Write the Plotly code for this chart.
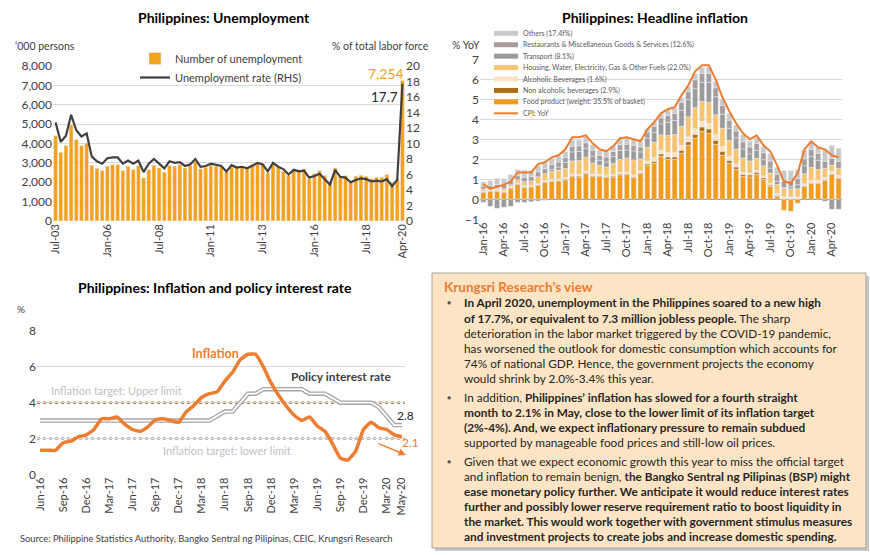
import plotly.graph_objects as go

W, H = 870, 555
def px(x): return x / W
def py(y): return 1 - y / H

FONT = "Lato, 'Open Sans', sans-serif"
ORANGE = "#F4A21C"
CPI_OR = "#ED7D31"
DARK = "#404040"

# ---------------- Chart 1: Unemployment (quarterly, Jul-03 .. Apr-20) ----------------
quarters = []
for yr in range(2003, 2021):
    for m in ["Jan", "Apr", "Jul", "Oct"]:
        quarters.append(f"{m}-{str(yr)[2:]}")
quarters = quarters[quarters.index("Jul-03"):quarters.index("Apr-20") + 1]

unemployed = [4400, 3540, 3890, 4970, 4200, 3890, 4020, 2880, 2710, 2600,
              2830, 2910, 2910, 2600, 2830, 2650, 2860, 2230, 2650, 2880,
              2740, 2520, 2860, 2830, 2910, 2740, 2860, 3080, 2690, 2770,
              2880, 2830, 2790, 2570, 2770, 2830, 2770, 2740, 2880, 3050,
              2960, 2480, 2880, 2770, 2570, 2350, 2650, 2650, 2690, 2170,
              2450, 2600, 2350, 1920, 2740, 2310, 2350, 2000, 2310, 2360,
              2310, 2190, 2260, 2260, 2400, 1970, 2140, 7254]
unemp_rate = [12.7, 10.2, 11.0, 13.7, 11.7, 10.9, 11.3, 8.3, 7.7, 7.4,
              8.1, 8.2, 8.2, 7.4, 7.8, 7.4, 7.8, 6.3, 7.4, 8.0,
              7.4, 6.8, 7.7, 7.5, 7.6, 7.1, 7.3, 8.0, 7.0, 7.1,
              7.4, 7.2, 7.1, 6.4, 7.2, 6.9, 7.0, 6.8, 7.1, 7.5,
              7.3, 6.4, 7.5, 7.0, 6.7, 6.0, 6.6, 6.4, 6.5, 5.6,
              5.8, 6.1, 5.4, 4.7, 6.6, 5.7, 5.6, 5.0, 5.3, 5.5,
              5.4, 5.1, 5.2, 5.1, 5.4, 4.5, 5.3, 17.7]
q_ticks = ["Jul-03", "Jan-06", "Jul-08", "Jan-11", "Jul-13", "Jan-16", "Jul-18", "Apr-20"]

# ---------------- Chart 2: Headline inflation (monthly, Jan-16 .. May-20) ----------------
months = []
for yr in range(2016, 2021):
    for m in ["Jan", "Feb", "Mar", "Apr", "May", "Jun", "Jul", "Aug", "Sep", "Oct", "Nov", "Dec"]:
        months.append(f"{m}-{str(yr)[2:]}")
months = months[:months.index("May-20") + 1]

food = [0.33, 0.40, 0.40, 0.35, 0.55, 0.75, 0.60, 0.62, 0.70, 0.85, 0.90, 0.92,
        0.97, 1.15, 1.12, 1.28, 1.15, 1.13, 1.10, 1.12, 1.22, 1.25, 1.10, 1.30,
        1.68, 1.80, 2.15, 2.00, 2.00, 2.30, 2.70, 3.05, 3.40, 3.30, 2.75, 2.20,
        1.80, 1.50, 1.15, 1.12, 1.25, 1.00, 0.65, 0.15, -0.55, -0.60, -0.20, 0.65,
        0.80, 0.80, 0.95, 1.25, 1.05]
non_alc = [0.03, 0.03, 0.03, 0.03, 0.03, 0.03, 0.03, 0.03, 0.03, 0.03, 0.03, 0.03,
           0.04, 0.04, 0.04, 0.04, 0.04, 0.04, 0.04, 0.04, 0.04, 0.04, 0.04, 0.04,
           0.08, 0.10, 0.12, 0.12, 0.12, 0.15, 0.18, 0.20, 0.22, 0.22, 0.20, 0.20,
           0.15, 0.12, 0.10, 0.10, 0.10, 0.08, 0.06, 0.05, 0.04, 0.03, 0.03, 0.03,
           0.03, 0.03, 0.03, 0.03, 0.03]
alcohol = [0.05, 0.05, 0.05, 0.05, 0.05, 0.05, 0.05, 0.05, 0.05, 0.05, 0.06, 0.06,
           0.08, 0.08, 0.08, 0.08, 0.08, 0.08, 0.08, 0.08, 0.08, 0.08, 0.08, 0.08,
           0.15, 0.20, 0.20, 0.22, 0.22, 0.25, 0.25, 0.28, 0.28, 0.28, 0.28, 0.25,
           0.20, 0.15, 0.12, 0.10, 0.10, 0.10, 0.10, 0.10, 0.10, 0.10, 0.10, 0.10,
           0.12, 0.12, 0.12, 0.12, 0.12]
housing = [0.10, 0.05, 0.08, 0.10, 0.10, 0.15, 0.20, 0.22, 0.35, 0.35, 0.40, 0.45,
           0.45, 0.65, 0.70, 0.70, 0.55, 0.45, 0.40, 0.55, 0.65, 0.70, 0.75, 0.60,
           0.70, 0.75, 0.75, 0.85, 0.90, 0.95, 1.00, 1.05, 1.00, 1.05, 1.00, 0.90,
           0.80, 0.75, 0.70, 0.60, 0.60, 0.50, 0.50, 0.45, 0.40, 0.40, 0.40, 0.50,
           0.65, 0.55, 0.45, 0.30, 0.35]
transport = [-0.15, -0.35, -0.45, -0.40, -0.35, -0.15, -0.15, -0.12, -0.08, -0.05, 0.10, 0.15,
             0.30, 0.45, 0.45, 0.45, 0.35, 0.25, 0.25, 0.35, 0.45, 0.40, 0.45, 0.35,
             0.45, 0.50, 0.55, 0.65, 0.70, 0.80, 0.85, 0.95, 0.95, 1.00, 0.90, 0.70,
             0.60, 0.55, 0.45, 0.35, 0.40, 0.30, 0.25, 0.15, 0.05, 0.10, 0.20, 0.40,
             0.55, 0.45, -0.10, -0.50, -0.50]
restaurants = [0.15, 0.15, 0.18, 0.20, 0.20, 0.20, 0.22, 0.22, 0.25, 0.25, 0.25, 0.25,
               0.25, 0.28, 0.28, 0.28, 0.28, 0.25, 0.25, 0.25, 0.28, 0.28, 0.28, 0.25,
               0.30, 0.30, 0.30, 0.35, 0.35, 0.40, 0.40, 0.45, 0.45, 0.45, 0.45, 0.45,
               0.40, 0.35, 0.35, 0.35, 0.35, 0.35, 0.35, 0.35, 0.30, 0.30, 0.30, 0.35,
               0.35, 0.35, 0.35, 0.35, 0.35]
others = [0.20, 0.25, 0.30, 0.30, 0.30, 0.30, 0.35, 0.30, 0.30, 0.30, 0.30, 0.30,
          0.30, 0.30, 0.30, 0.30, 0.28, 0.25, 0.25, 0.28, 0.30, 0.30, 0.30, 0.25,
          0.15, 0.20, 0.20, 0.25, 0.25, 0.25, 0.25, 0.30, 0.30, 0.30, 0.30, 0.30,
          0.35, 0.30, 0.35, 0.30, 0.30, 0.30, 0.35, 0.35, 0.55, 0.50, 0.45, 0.45,
          0.35, 0.30, 0.60, 0.65, 0.65]
cpi = [0.76, 0.52, 0.64, 0.72, 0.89, 1.34, 1.34, 1.34, 1.76, 1.85, 2.10, 2.20,
       2.50, 3.10, 3.10, 3.20, 2.80, 2.50, 2.40, 2.65, 3.05, 3.10, 3.00, 2.90,
       3.50, 3.85, 4.30, 4.50, 4.60, 5.20, 5.70, 6.40, 6.70, 6.70, 6.00, 5.10,
       4.40, 3.80, 3.30, 3.00, 3.20, 2.70, 2.40, 1.70, 0.90, 0.80, 1.30, 2.50,
       2.90, 2.60, 2.50, 2.20, 2.10]
m_ticks = months[0::3]

components = [
    ("Food product (weight: 35.5% of basket)", food, "#F39B1A"),
    ("Non alcoholic beverages (2.9%)", non_alc, "#B06E14"),
    ("Alcoholic Beverages (1.6%)", alcohol, "#FCE2C0"),
    ("Housing, Water, Electricity, Gas & Other Fuels (22.0%)", housing, "#F9C46E"),
    ("Transport (8.1%)", transport, "#9B9B9B"),
    ("Restaurants & Miscellaneous Goods & Services (12.6%)", restaurants, "#A89C9C"),
    ("Others (17.4f%)", others, "#C9C9C9"),
]

# ---------------- Chart 3: Inflation & policy rate (Jun-16 .. May-20) ----------------
months3 = months[months.index("Jun-16"):]
inflation3 = cpi[months.index("Jun-16"):]
policy_rate = [3.0, 3.0, 3.0, 3.0, 3.0, 3.0, 3.0,
               3.0, 3.0, 3.0, 3.0, 3.0, 3.0, 3.0, 3.0, 3.0, 3.0, 3.0, 3.0,
               3.0, 3.0, 3.0, 3.0, 3.25, 3.5, 3.5, 4.0, 4.5, 4.5, 4.75, 4.75,
               4.75, 4.75, 4.75, 4.75, 4.5, 4.5, 4.5, 4.25, 4.0, 4.0, 4.0, 4.0,
               4.0, 3.75, 3.25, 2.75, 2.75]
target_upper = 4
target_lower = 2
m3_ticks = months3[0::3] + ["May-20"]

fig = go.Figure()

# Chart 1 traces
fig.add_trace(go.Bar(x=quarters, y=unemployed, name="Number of unemployment",
                     marker_color=ORANGE, xaxis="x", yaxis="y", legend="legend"))
fig.add_trace(go.Scatter(x=quarters, y=unemp_rate, name="Unemployment rate (RHS)", mode="lines",
                         line=dict(color=DARK, width=2.2), xaxis="x", yaxis="y2", legend="legend"))

# Chart 2 traces
for name, vals, col in components:
    fig.add_trace(go.Bar(x=months, y=vals, name=name, marker_color=col, xaxis="x2", yaxis="y3",
                         showlegend=False))
fig.add_trace(go.Scatter(x=months, y=cpi, name="CPI: YoY", mode="lines",
                         line=dict(color=CPI_OR, width=2), xaxis="x2", yaxis="y3", showlegend=False))

# Chart 3 traces
fig.add_trace(go.Scatter(x=months3, y=policy_rate, mode="lines", line=dict(color="#A6A6A6", width=4.5),
                         xaxis="x3", yaxis="y4", showlegend=False, name="Policy interest rate"))
fig.add_trace(go.Scatter(x=months3, y=policy_rate, mode="lines", line=dict(color="white", width=1.8),
                         xaxis="x3", yaxis="y4", showlegend=False, hoverinfo="skip"))
fig.add_trace(go.Scatter(x=months3, y=inflation3, mode="lines",
                         line=dict(color=CPI_OR, width=3.5, shape="spline", smoothing=0.4),
                         xaxis="x3", yaxis="y4", showlegend=False, name="Inflation"))

tickfont = dict(family=FONT, size=11, color=DARK)
ytickfont = dict(family=FONT, size=12, color=DARK)
GRID = "#D9D9D9"

fig.update_layout(
    width=W, height=H, margin=dict(l=0, r=0, t=0, b=0, autoexpand=False),
    paper_bgcolor="white", plot_bgcolor="rgba(0,0,0,0)",
    font=dict(family=FONT, color=DARK),
    barmode="relative", bargap=0.25,
    xaxis=dict(domain=[px(53), px(405)], anchor="y", type="category", range=[-0.5, len(quarters) - 0.5],
               tickvals=q_ticks, ticktext=q_ticks, tickangle=-90, tickfont=tickfont, showgrid=False,
               showline=False, ticks="", automargin=False),
    yaxis=dict(domain=[py(221), py(66)], range=[0, 8000], dtick=1000, tickformat=",", gridcolor=GRID,
               tickfont=ytickfont, zeroline=False, ticks="", automargin=False),
    yaxis2=dict(overlaying="y", side="right", anchor="x", range=[0, 20], dtick=2, showgrid=False,
                tickfont=ytickfont, zeroline=False, ticks="", automargin=False),
    xaxis2=dict(domain=[px(480), px(842)], anchor="y3", type="category", range=[-0.5, len(months) - 0.5],
                tickvals=m_ticks, ticktext=m_ticks, tickangle=-90, tickfont=tickfont, showgrid=False, ticks="",
                automargin=False),
    yaxis3=dict(domain=[py(219.3), py(59.3)], anchor="x2", range=[-1, 7], dtick=1, gridcolor=GRID,
                zeroline=True, zerolinecolor="#808080", zerolinewidth=1, tickfont=ytickfont, ticks="",
                automargin=False),
    xaxis3=dict(domain=[px(37), px(405)], anchor="y4", type="category", range=[-0.4, len(months3) - 0.6],
                tickvals=m3_ticks, ticktext=m3_ticks, tickangle=-90, tickfont=tickfont, showgrid=False, ticks="",
                automargin=False),
    yaxis4=dict(domain=[py(474.3), py(331)], anchor="x3", range=[0, 8], dtick=2, gridcolor=GRID,
                zeroline=False, tickfont=ytickfont, ticks="", automargin=False),
    legend=dict(x=px(135), y=py(44), xanchor="left", yanchor="top", bgcolor="rgba(0,0,0,0)",
                font=dict(family=FONT, size=11, color=DARK), tracegroupgap=0, itemwidth=30),
)

shapes = []
annotations = []

def ann(text, x, y, size=11, color=DARK, xanchor="center", yanchor="middle", **kw):
    annotations.append(dict(text=text, x=px(x), y=py(y), xref="paper", yref="paper", showarrow=False,
                            xanchor=xanchor, yanchor=yanchor, font=dict(family=FONT, size=size, color=color), **kw))

# Titles
ann("<b>Philippines: Unemployment</b>", 224, 17, size=14, color="#000000")
ann("<b>Philippines: Headline inflation</b>", 655, 17, size=14, color="#000000")
ann("<b>Philippines: Inflation and policy interest rate</b>", 215, 287, size=14, color="#000000")

# Chart 1 texts
ann("‘000 persons", 13, 46, size=10.5, xanchor="left")
ann("% of total labor force", 431, 46, size=10.5, xanchor="right")
ann("7,254", 386, 73, size=14, color=ORANGE)
ann("17.7", 384, 97, size=13.5, color="#262626")

# Chart 2 texts & manual legend
ann("% YoY", 450, 45, size=10.5, xanchor="left")
leg_items = [(c[0], c[2]) for c in reversed(components)]
y0 = 33.3
for i, (name, col) in enumerate(leg_items):
    yy = y0 + i * 11.43
    shapes.append(dict(type="rect", xref="paper", yref="paper", x0=px(494), x1=px(518),
                       y0=py(yy + 2.5), y1=py(yy - 2.5), fillcolor=col, line=dict(width=0)))
    ann(name, 521, yy, size=7.1, color="#595959", xanchor="left")
yy = y0 + 7 * 11.43
shapes.append(dict(type="line", xref="paper", yref="paper", x0=px(494), x1=px(518), y0=py(yy), y1=py(yy),
                   line=dict(color=CPI_OR, width=2)))
ann("CPI: YoY", 521, yy, size=7.1, color="#595959", xanchor="left")

# Chart 3 texts
shapes.append(dict(type="line", xref="x3 domain", yref="y4", x0=0, x1=1, y0=target_upper, y1=target_upper,
                   line=dict(color="#C07A3A", width=2.5, dash="dot"), layer="below"))
shapes.append(dict(type="line", xref="x3 domain", yref="y4", x0=0, x1=1, y0=target_lower, y1=target_lower,
                   line=dict(color="#A6A6A6", width=2.5, dash="dot"), layer="below"))
ann("%", 21, 309, size=10)
ann("<b>Inflation</b>", 215, 353, size=12.5, color=CPI_OR)
ann("<b>Policy interest rate</b>", 341, 377, size=12, color=DARK)
ann("Inflation target: Upper limit", 116, 390, size=11, color="#BFBFBF")
ann("Inflation target: lower limit", 227, 450, size=11, color="#BFBFBF")
ann("2.8", 405, 415, size=12, color="#262626")
ann("2.1", 410, 442, size=12, color=CPI_OR)
annotations.append(dict(x=px(406), y=py(455), xref="paper", yref="paper", ax=-29, ay=-12,
                        axref="pixel", ayref="pixel", showarrow=True, arrowhead=2, arrowsize=1,
                        arrowwidth=1.5, arrowcolor=CPI_OR, text=""))
ann("Source: Philippine Statistics Authority, Bangko Sentral ng Pilipinas, CEIC, Krungsri Research",
    18, 538, size=9.4, xanchor="left")

# Text box
shapes.append(dict(type="rect", xref="paper", yref="paper", x0=px(435), x1=px(869), y0=py(551), y1=py(276),
                   fillcolor="#C8C8C8", line=dict(width=0), layer="below"))
shapes.append(dict(type="rect", xref="paper", yref="paper", x0=px(432), x1=px(866), y0=py(548), y1=py(273),
                   fillcolor="#FCE4C4", line=dict(color="#A6A6A6", width=1), layer="below"))
ann("<b>Krungsri Research’s view</b>", 442, 287, size=13.5, color=CPI_OR, xanchor="left")

body = [
    (True, "<b>In April 2020, unemployment in the Philippines soared to a new high</b>", 302),
    (False, "<b>of 17.7%, or equivalent to 7.3 million jobless people.</b> The sharp", 318),
    (False, "deterioration in the labor market triggered by the COVID-19 pandemic,", 333),
    (False, "has worsened the outlook for domestic consumption which accounts for", 348),
    (False, "74% of national GDP. Hence, the government projects the economy", 363),
    (False, "would shrink by 2.0%-3.4% this year.", 378),
    (True, "In addition, <b>Philippines’ inflation has slowed for a fourth straight</b>", 397),
    (False, "<b>month to 2.1% in May, close to the lower limit of its inflation target</b>", 412),
    (False, "<b>(2%-4%). And, we expect inflationary pressure to remain subdued</b>", 427),
    (False, "supported by manageable food prices and still-low oil prices.", 442),
    (True, "Given that we expect economic growth this year to miss the official target", 461),
    (False, "and inflation to remain benign, <b>the Bangko Sentral ng Pilipinas (BSP) might</b>", 476),
    (False, "<b>ease monetary policy further. We anticipate it would reduce interest rates</b>", 491),
    (False, "<b>further and possibly lower reserve requirement ratio to boost liquidity in</b>", 506),
    (False, "<b>the market. This would work together with government stimulus measures</b>", 521),
    (False, "<b>and investment projects to create jobs and increase domestic spending.</b>", 536),
]
for bullet, txt, yy in body:
    if bullet:
        ann("●", 449, yy, size=7, color="#595959")
    ann(txt, 462, yy, size=11.8, color="#262626", xanchor="left")

fig.update_layout(shapes=shapes, annotations=annotations)
fig.write_html("out.html", config={"displayModeBar": False},
               post_script="document.body.style.margin='0';document.body.style.overflow='hidden';")
